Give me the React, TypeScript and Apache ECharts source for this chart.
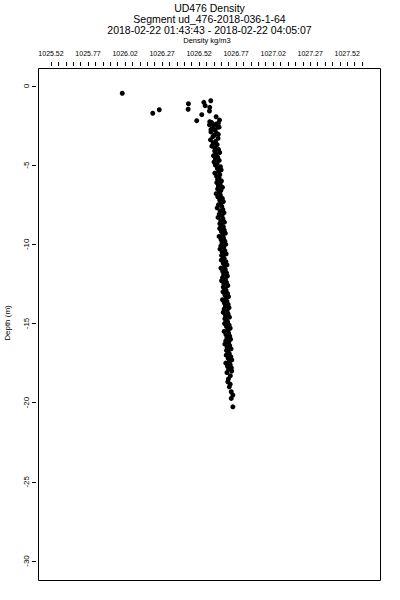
import React, { useEffect, useRef } from "react";
import * as echarts from "echarts";

// ---- Titles & tick labels ----
const titleLines = [
  "UD476 Density",
  "Segment ud_476-2018-036-1-64",
  "2018-02-22 01:43:43 - 2018-02-22 04:05:07",
];
const xAxisTitle = "Density kg/m3";
const yAxisTitle = "Depth (m)";
const densityTickLabels = ["1025.52", "1025.77", "1026.02", "1026.27", "1026.52", "1026.77", "1027.02", "1027.27", "1027.52"];
const densityMinorStep = 0.05;
const densityTickCount = 43; // ticks every 0.05 from 1025.52 to 1027.62
const depthTicks = [0, -5, -10, -15, -20, -25, -30];

// ---- Data: near-surface scattered points ----
const surfaceDensity = [1026.001, 1026.207, 1026.251, 1026.448, 1026.446, 1026.552, 1026.561, 1026.599, 1026.592, 1026.590, 1026.538, 1026.504, 1026.635, 1026.658, 1026.592, 1026.650, 1026.590, 1026.655, 1026.600, 1026.650];
const surfaceDepth = [-0.46, -1.72, -1.50, -1.12, -1.47, -1.03, -1.24, -0.93, -1.35, -1.58, -1.81, -2.19, -1.94, -2.15, -2.26, -2.35, -2.45, -2.60, -2.75, -3.05];

// ---- Data: main profile ----
const profileDepth = [
  -2.3, -2.4, -2.5, -2.6, -2.7, -2.8, -2.9, -3.0, -3.1, -3.2, -3.3, -3.4, -3.5, -3.6, -3.7, -3.8, -3.9,
  -4.0, -4.1, -4.2, -4.3, -4.4, -4.5, -4.6, -4.7, -4.8, -4.9,
  -5.0, -5.1, -5.2, -5.3, -5.4, -5.5, -5.6, -5.7, -5.8, -5.9,
  -6.0, -6.1, -6.2, -6.3, -6.4, -6.5, -6.6, -6.7, -6.8, -6.9,
  -7.0, -7.1, -7.2, -7.3, -7.4, -7.5, -7.6, -7.7, -7.8, -7.9,
  -8.0, -8.1, -8.2, -8.3, -8.4, -8.5, -8.6, -8.7, -8.8, -8.9,
  -9.0, -9.1, -9.2, -9.3, -9.4, -9.5, -9.6, -9.7, -9.8, -9.9,
  -10.0, -10.1, -10.2, -10.3, -10.4, -10.5, -10.6, -10.7, -10.8, -10.9,
  -11.0, -11.1, -11.2, -11.3, -11.4, -11.5, -11.6, -11.7, -11.8, -11.9,
  -12.0, -12.1, -12.2, -12.3, -12.4, -12.5, -12.6, -12.7, -12.8, -12.9,
  -13.0, -13.1, -13.2, -13.3, -13.4, -13.5, -13.6, -13.7, -13.8, -13.9,
  -14.0, -14.1, -14.2, -14.3, -14.4, -14.5, -14.6, -14.7, -14.8, -14.9,
  -15.0, -15.1, -15.2, -15.3, -15.4, -15.5, -15.6, -15.7, -15.8, -15.9,
  -16.0, -16.1, -16.2, -16.3, -16.4, -16.5, -16.6, -16.7, -16.8, -16.9,
  -17.0, -17.1, -17.2, -17.3, -17.4, -17.5, -17.6, -17.7, -17.8, -17.9,
  -18.0, -18.1, -18.3, -18.5, -18.68, -18.83, -19.0, -19.31, -19.52, -19.73, -20.26,
];
const profileDensity = [
  1026.604, 1026.634, 1026.618, 1026.645, 1026.609, 1026.628, 1026.600, 1026.640, 1026.622, 1026.613, 1026.648, 1026.597, 1026.631, 1026.615, 1026.642, 1026.606, 1026.626,
  1026.651, 1026.625, 1026.659, 1026.634, 1026.617, 1026.646, 1026.630, 1026.656, 1026.621, 1026.641,
  1026.630, 1026.664, 1026.643, 1026.669, 1026.652, 1026.626, 1026.660, 1026.638, 1026.655, 1026.645,
  1026.671, 1026.639, 1026.662, 1026.650, 1026.678, 1026.645, 1026.667, 1026.657, 1026.635, 1026.664,
  1026.646, 1026.677, 1026.659, 1026.684, 1026.668, 1026.651, 1026.673, 1026.642, 1026.680, 1026.662,
  1026.688, 1026.656, 1026.675, 1026.648, 1026.681, 1026.666, 1026.691, 1026.660, 1026.672, 1026.684,
  1026.659, 1026.690, 1026.671, 1026.697, 1026.680, 1026.655, 1026.685, 1026.668, 1026.694, 1026.675,
  1026.700, 1026.667, 1026.686, 1026.661, 1026.694, 1026.676, 1026.703, 1026.672, 1026.683, 1026.690,
  1026.670, 1026.701, 1026.683, 1026.708, 1026.692, 1026.667, 1026.697, 1026.679, 1026.705, 1026.686,
  1026.711, 1026.678, 1026.698, 1026.672, 1026.705, 1026.687, 1026.714, 1026.683, 1026.694, 1026.702,
  1026.681, 1026.712, 1026.694, 1026.719, 1026.703, 1026.678, 1026.708, 1026.690, 1026.716, 1026.697,
  1026.722, 1026.689, 1026.709, 1026.683, 1026.716, 1026.698, 1026.725, 1026.694, 1026.705, 1026.713,
  1026.692, 1026.723, 1026.705, 1026.730, 1026.714, 1026.689, 1026.719, 1026.701, 1026.727, 1026.708,
  1026.733, 1026.700, 1026.720, 1026.694, 1026.727, 1026.709, 1026.736, 1026.705, 1026.716, 1026.724,
  1026.703, 1026.734, 1026.716, 1026.741, 1026.725, 1026.700, 1026.730, 1026.712, 1026.738, 1026.719,
  1026.740, 1026.708, 1026.731, 1026.718, 1026.714, 1026.730, 1026.724, 1026.737, 1026.748, 1026.737, 1026.748,
];

// ---- Axis extents of the plot box ----
const densityRange = [1025.4356, 1027.7449];
const depthRange = [-31.23, 1.105];

const FONT = "'Liberation Sans', Arial, Helvetica, sans-serif";

export default function App() {
  const ref = useRef<HTMLDivElement>(null);

  useEffect(() => {
    if (!ref.current) return;
    const chart = echarts.init(ref.current, null, { renderer: "svg" });

    const points: number[][] = [];
    surfaceDensity.forEach((d, i) => points.push([d, surfaceDepth[i]]));
    profileDensity.forEach((d, i) => points.push([d, profileDepth[i]]));

    const tickCategories: string[] = [];
    for (let i = 0; i < densityTickCount; i++) {
      const major = i % 5 === 0 ? densityTickLabels[i / 5] : undefined;
      tickCategories.push(major !== undefined ? major : (1025.52 + i * densityMinorStep).toFixed(2));
    }

    const hiddenValue = (gridIndex: number, min: number, max: number) => ({
      type: "value", gridIndex, min, max, show: false, splitLine: { show: false },
      axisLine: { show: false, onZero: false },
    });

    const option: any = {
      animation: false,
      backgroundColor: "#fff",
      textStyle: { fontFamily: FONT, color: "#000" },
      grid: [
        // plot box
        {
          left: 38.5, top: 68.5, width: 342, height: 512,
          show: true, borderColor: "#000", borderWidth: 1, backgroundColor: "transparent",
        },
        // top density tick axis (axis line at y = 66)
        { left: 51, top: 66, width: 311, height: 10, show: false },
        // left depth tick axis (axis line at x = 36)
        { left: 36, top: 86, width: 10, height: 475, show: false },
      ],
      xAxis: [
        hiddenValue(0, densityRange[0], densityRange[1]),
        {
          type: "category", gridIndex: 1, position: "top",
          data: tickCategories, boundaryGap: false,
          axisLine: { show: false, onZero: false },
          axisTick: { show: true, interval: 0, length: 4, inside: false, lineStyle: { color: "#000", width: 1 } },
          axisLabel: { show: true, interval: 4, margin: 9, fontSize: 7, color: "#000", fontFamily: FONT },
          splitLine: { show: false },
        },
        hiddenValue(2, 0, 1),
      ],
      yAxis: [
        hiddenValue(0, depthRange[0], depthRange[1]),
        hiddenValue(1, 0, 1),
        {
          type: "value", gridIndex: 2, position: "left",
          min: depthTicks[depthTicks.length - 1], max: depthTicks[0], interval: 5,
          axisLine: { show: false, onZero: false },
          axisTick: { show: true, length: 4, inside: false, lineStyle: { color: "#000", width: 1 } },
          axisLabel: { show: true, rotate: 90, margin: 6, fontSize: 8, color: "#000", fontFamily: FONT },
          splitLine: { show: false },
        },
      ],
      graphic: [
        ...titleLines.map((t, i) => ({
          type: "text", x: 209.5, y: 8 + i * 11,
          style: { text: t, fontSize: 10.5, fontFamily: FONT, fill: "#000", textAlign: "center", textVerticalAlign: "middle" },
        })),
        {
          type: "text", x: 207, y: 40.5,
          style: { text: xAxisTitle, fontSize: 7.5, fontFamily: FONT, fill: "#000", textAlign: "center", textVerticalAlign: "middle" },
        },
        {
          type: "text", x: 7, y: 323, rotation: Math.PI / 2,
          style: { text: yAxisTitle, fontSize: 8, fontFamily: FONT, fill: "#000", textAlign: "center", textVerticalAlign: "middle" },
        },
      ],
      series: [
        {
          type: "scatter", xAxisIndex: 0, yAxisIndex: 0,
          data: points, symbol: "circle", symbolSize: 5,
          itemStyle: { color: "#000", opacity: 1 }, silent: true,
        },
      ],
    };

    chart.setOption(option);
    return () => chart.dispose();
  }, []);

  return <div ref={ref} style={{ position: "absolute", left: 0, top: 0, width: 400, height: 600 }} />;
}
